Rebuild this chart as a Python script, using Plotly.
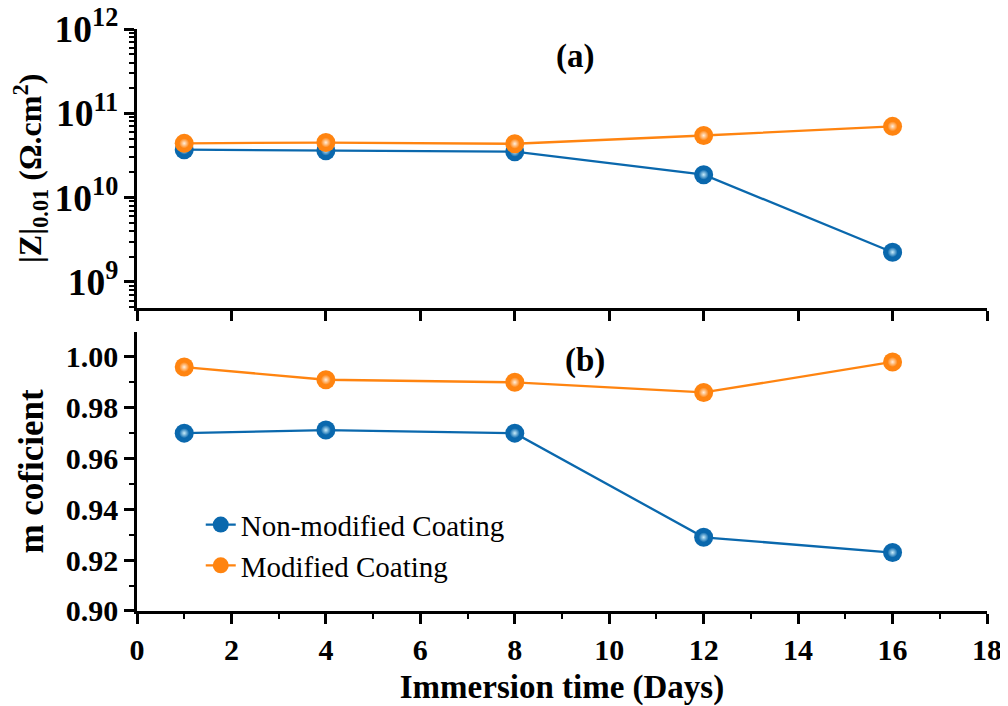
import plotly.graph_objects as go

days = [1, 4, 8, 12, 16]
z_nonmod = [3.7e10, 3.6e10, 3.5e10, 1.87e10, 2.25e9]
z_mod = [4.4e10, 4.5e10, 4.35e10, 5.45e10, 7.0e10]
m_nonmod = [0.970, 0.9712, 0.970, 0.929, 0.923]
m_mod = [0.996, 0.991, 0.990, 0.986, 0.998]

BLUE = "#0a68ad"
ORANGE = "#ff8410"
BLUE_HI = "#c8ecfa"
ORANGE_HI = "#ffeedd"
FONT = "Liberation Serif"

fig = go.Figure()

def add_series(x, y, color, hi, name, xa, ya, legend):
    fig.add_trace(go.Scatter(x=x, y=y, mode="lines+markers", name=name,
                             xaxis=xa, yaxis=ya, showlegend=legend,
                             line=dict(color=color, width=2.3),
                             marker=dict(size=19, color=color, line=dict(width=0)),
                             hoverinfo="skip"))
    fig.add_trace(go.Scatter(x=x, y=y, mode="markers", showlegend=False,
                             xaxis=xa, yaxis=ya,
                             marker=dict(size=10, color=color, line=dict(width=0),
                                         gradient=dict(type="radial", color=hi)),
                             hoverinfo="skip"))

add_series(days, z_nonmod, BLUE, BLUE_HI, "Non-modified Coating", "x", "y", False)
add_series(days, z_mod, ORANGE, ORANGE_HI, "Modified Coating", "x", "y", False)
add_series(days, m_nonmod, BLUE, BLUE_HI, "Non-modified Coating", "x2", "y2", True)
add_series(days, m_mod, ORANGE, ORANGE_HI, "Modified Coating", "x2", "y2", True)

tickfont = dict(family=FONT, size=30, color="black", weight="bold")
axcommon = dict(showline=True, linecolor="black", linewidth=2.5, showgrid=False,
                zeroline=False, tickcolor="black", tickwidth=2.5, ticklen=10,
                tickfont=tickfont, automargin=False)
minor_out = dict(ticks="outside", ticklen=5, tickwidth=2, tickcolor="black")
minor_in = dict(ticks="inside", ticklen=5, tickwidth=2, tickcolor="black")

top_dom = [0.5206, 1.0]
bot_dom = [0.0, 0.4794]
zr = [8.69, 12]
mr = [0.9, 1.0098]

# page has an 8px body margin, so the figure is drawn 8px smaller and offset
fig.update_layout(
    width=1000, height=698,
    margin=dict(l=129, r=21, t=21, b=95),
    paper_bgcolor="white", plot_bgcolor="white",
    font=dict(family=FONT, color="black"),
    showlegend=True,
    legend=dict(x=0.075, y=0.192, xanchor="left", yanchor="top",
                bgcolor="rgba(0,0,0,0)", tracegroupgap=0,
                font=dict(family=FONT, size=29, color="black")),
    # top panel
    xaxis=dict(domain=[0, 1], anchor="y", range=[0, 18], dtick=2, tick0=0,
               ticks="outside", showticklabels=False, **axcommon),
    yaxis=dict(domain=top_dom, anchor="x", type="log", range=zr, dtick=1,
               exponentformat="power", ticks="outside", ticklabeloverflow="allow",
               minor=dict(dtick="D1", **minor_out),
               title=dict(text="|Z|<sub>0.01</sub> (Ω.cm<sup>2</sup>)", standoff=10,
                          font=dict(family=FONT, size=32, color="black", weight="bold")),
               **axcommon),
    xaxis3=dict(overlaying="x", anchor="y", side="top", range=[0, 18], dtick=2, tick0=0,
                ticks="inside", showticklabels=False, **axcommon),
    yaxis3=dict(overlaying="y", anchor="x", side="right", type="log", range=zr, dtick=1,
                ticks="inside", showticklabels=False,
                minor=dict(dtick="D1", **minor_in), **axcommon),
    # bottom panel
    xaxis2=dict(domain=[0, 1], anchor="y2", range=[0, 18], dtick=2, tick0=0,
                ticks="outside", minor=dict(dtick=1, **minor_out), ticklabeloverflow="allow",
                title=dict(text="Immersion time (Days)", standoff=22,
                           font=dict(family=FONT, size=33, color="black", weight="bold")),
                **axcommon),
    yaxis2=dict(domain=bot_dom, anchor="x2", range=mr, dtick=0.02, tick0=0.9,
                tickformat=".2f", ticks="outside", minor=dict(dtick=0.01, **minor_out),
                title=dict(text="m coficient", standoff=12,
                           font=dict(family=FONT, size=35, color="black", weight="bold")),
                **axcommon),
    xaxis4=dict(overlaying="x2", anchor="y2", side="top", range=[0, 18], dtick=2, tick0=0,
                ticks="inside", showticklabels=False, minor=dict(dtick=1, **minor_in),
                **axcommon),
    yaxis4=dict(overlaying="y2", anchor="x2", side="right", range=mr, dtick=0.02,
                tick0=0.9, ticks="inside", showticklabels=False,
                minor=dict(dtick=0.01, **minor_in), **axcommon),
)

fig.add_annotation(text="(a)", x=0.515, y=0.952, xref="paper", yref="paper",
                   xanchor="center", yanchor="middle", showarrow=False,
                   font=dict(family=FONT, size=33, color="black", weight="bold"))
fig.add_annotation(text="(b)", x=0.527, y=0.431, xref="paper", yref="paper",
                   xanchor="center", yanchor="middle", showarrow=False,
                   font=dict(family=FONT, size=33, color="black", weight="bold"))

fig.write_html("out.html")
